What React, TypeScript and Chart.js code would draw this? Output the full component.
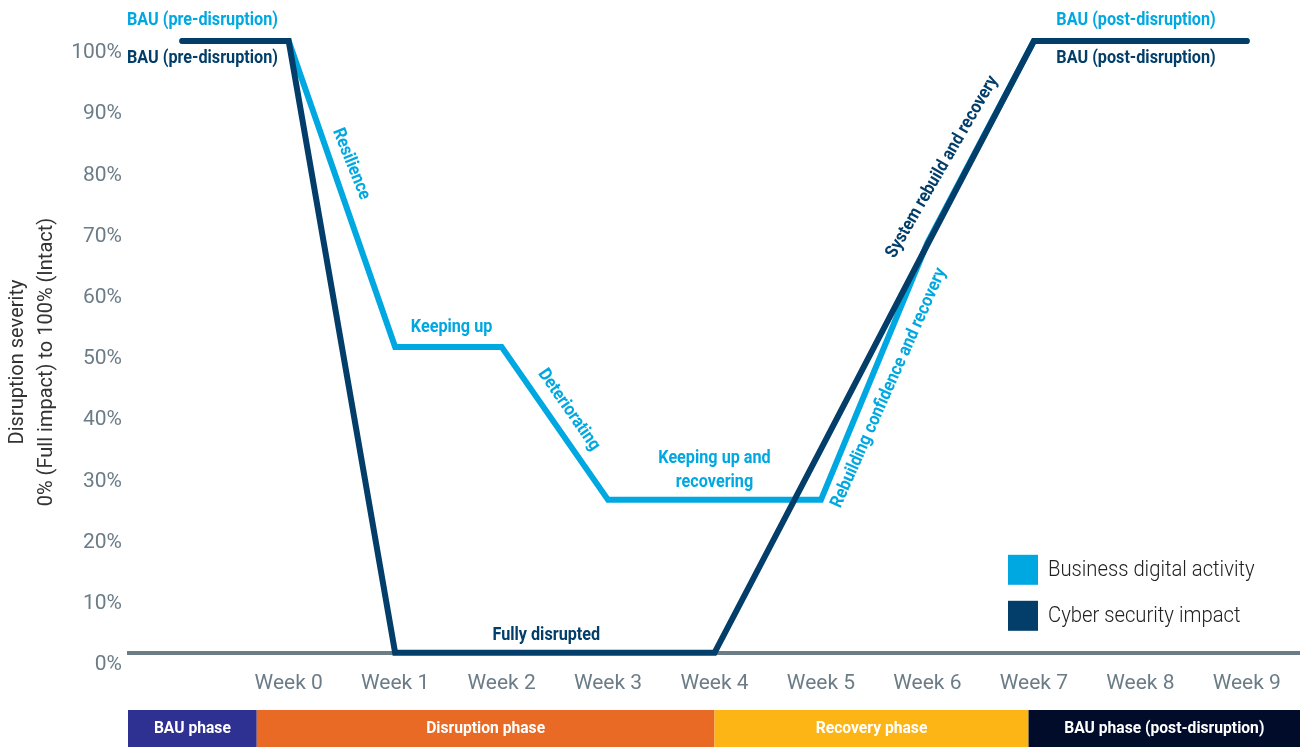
import React, { useEffect, useRef } from "react";
import { Chart, registerables } from "chart.js";

Chart.register(...registerables);

// ---------- data ----------
const categories = ["", "Week 0", "Week 1", "Week 2", "Week 3", "Week 4", "Week 5", "Week 6", "Week 7", "Week 8", "Week 9"];
const businessActivity = [100, 100, 50, 50, 25, 25, 25, 67, 100, 100, 100];
const cyberImpact = [100, 100, 0, 0, 0, 0, 33.3, 66.7, 100, 100, 100];
const seriesNames = ["Business digital activity", "Cyber security impact"];
const seriesColors = ["#00A8E1", "#023E69"];

const phaseNames = ["BAU phase", "Disruption phase", "Recovery phase", "BAU phase (post-disruption)"];
const phaseBounds = [-0.5, 0.7, 5.0, 7.95, 10.5];
const phaseColors = ["#2E3192", "#E86A24", "#FDB515", "#000C2A"];

const yTitleLines = ["Disruption severity", "0% (Full impact) to 100% (Intact)"];

// annotation labels: series colour index, category-index position, value position, angle
const annotationTexts = [
  "BAU (pre-disruption)", "BAU (pre-disruption)", "BAU (post-disruption)", "BAU (post-disruption)",
  "Resilience", "Keeping up", "Deteriorating", "Keeping up and", "recovering",
  "Fully disrupted", "System rebuild and recovery", "Rebuilding confidence and recovery",
];
const annotationSeries = [0, 1, 0, 1, 0, 0, 0, 0, 0, 1, 1, 0];
const annotationX = [0.19, 0.19, 8.96, 8.96, 1.585, 2.53, 3.63, 5.0, 5.0, 3.42, 7.14, 6.64];
const annotationY = [103.3, 97.1, 103.3, 97.1, 79.9, 53.1, 39.7, 31.7, 27.9, 2.9, 79.4, 43.3];
const annotationAngle = [0, 0, 0, 0, 68, 0, 55, 0, 0, 0, -60, -66];

const TICK_COLOR = "#6B7C87";

function drawText(
  ctx: CanvasRenderingContext2D,
  text: string,
  px: number,
  py: number,
  font: string,
  color: string,
  angleDeg = 0,
  sx = 1,
  align: CanvasTextAlign = "center"
) {
  ctx.save();
  ctx.translate(px, py);
  ctx.rotate((angleDeg * Math.PI) / 180);
  ctx.scale(sx, 1);
  ctx.font = font;
  ctx.fillStyle = color;
  ctx.textAlign = align;
  ctx.textBaseline = "middle";
  ctx.fillText(text, 0, 0);
  ctx.restore();
}

const overlayPlugin = {
  id: "overlay",
  afterDatasetsDraw(chart: any) {
    const ctx: CanvasRenderingContext2D = chart.ctx;
    const xs = chart.scales.x;
    const ys = chart.scales.y;
    annotationTexts.forEach((t, i) => {
      drawText(
        ctx,
        t,
        xs.getPixelForValue(annotationX[i]),
        ys.getPixelForValue(annotationY[i]),
        "bold 18px Roboto",
        seriesColors[annotationSeries[i]],
        annotationAngle[i],
        0.9
      );
    });
  },
  afterDraw(chart: any) {
    const ctx: CanvasRenderingContext2D = chart.ctx;
    const xs = chart.scales.x;
    const area = chart.chartArea;
    const H = chart.height;

    // phase band
    const bandTop = H - 37;
    phaseNames.forEach((name, i) => {
      const x0 = i === 0 ? area.left - 1 : xs.getPixelForValue(phaseBounds[i]);
      const x1 = i === phaseNames.length - 1 ? chart.width : xs.getPixelForValue(phaseBounds[i + 1]);
      ctx.fillStyle = phaseColors[i];
      ctx.fillRect(x0, bandTop, x1 - x0, H - bandTop);
      drawText(ctx, name, (x0 + x1) / 2, bandTop + 19, "bold 17px Roboto", "#FFFFFF", 0, 0.92);
    });

    // legend
    const lx = area.right - 292;
    const ly = area.bottom - 98;
    seriesNames.forEach((name, i) => {
      ctx.fillStyle = seriesColors[i];
      ctx.fillRect(lx, ly + i * 46, 30, 30);
      drawText(ctx, name, lx + 40, ly + 16 + i * 46, "300 22px Roboto", "#222222", 0, 0.92, "left");
    });

    // y-axis title
    const cy = 362;
    drawText(ctx, yTitleLines[0], 18, cy, "20px Roboto", "#333333", -90);
    drawText(ctx, yTitleLines[1], 47, cy, "20px Roboto", "#333333", -90);
  },
};

export default function App() {
  const canvasRef = useRef<HTMLCanvasElement | null>(null);

  useEffect(() => {
    if (!canvasRef.current) return;
    const chart = new Chart(canvasRef.current, {
      type: "line",
      data: {
        labels: categories,
        datasets: [
          {
            label: seriesNames[0],
            data: businessActivity,
            borderColor: seriesColors[0],
            backgroundColor: seriesColors[0],
            borderWidth: 6,
            pointRadius: 0,
            tension: 0,
            borderCapStyle: "round",
            borderJoinStyle: "miter",
            clip: false,
            order: 1,
          } as any,
          {
            label: seriesNames[1],
            data: cyberImpact,
            borderColor: seriesColors[1],
            backgroundColor: seriesColors[1],
            borderWidth: 6,
            pointRadius: 0,
            tension: 0,
            borderCapStyle: "round",
            borderJoinStyle: "miter",
            clip: false,
            order: 0,
          } as any,
        ],
      },
      options: {
        animation: false,
        responsive: true,
        maintainAspectRatio: false,
        events: [],
        layout: { padding: { top: 41, left: 0, right: 0, bottom: 33 } },
        plugins: {
          legend: { display: false },
          tooltip: { enabled: false },
          title: { display: false },
        },
        scales: {
          x: {
            type: "category",
            offset: true,
            grid: { display: false, drawTicks: false },
            border: { display: true, color: TICK_COLOR, width: 4 },
            ticks: {
              color: TICK_COLOR,
              font: { family: "Roboto", size: 21 },
              padding: 18,
              maxRotation: 0,
              autoSkip: false,
            },
          },
          y: {
            min: 0,
            max: 100,
            grid: { display: false, drawTicks: false },
            border: { display: false },
            ticks: {
              stepSize: 10,
              color: TICK_COLOR,
              font: { family: "Roboto", size: 21 },
              padding: 7,
              labelOffset: 12,
              callback: (v: any) => `${v}%`,
            },
            afterFit: (scale: any) => {
              scale.width = 129;
            },
          },
        },
      },
      plugins: [overlayPlugin],
    });
    return () => chart.destroy();
  }, []);

  return (
    <div style={{ position: "fixed", left: 0, top: 0, width: 1300, height: 747, background: "#FFFFFF" }}>
      <canvas ref={canvasRef} />
    </div>
  );
}
